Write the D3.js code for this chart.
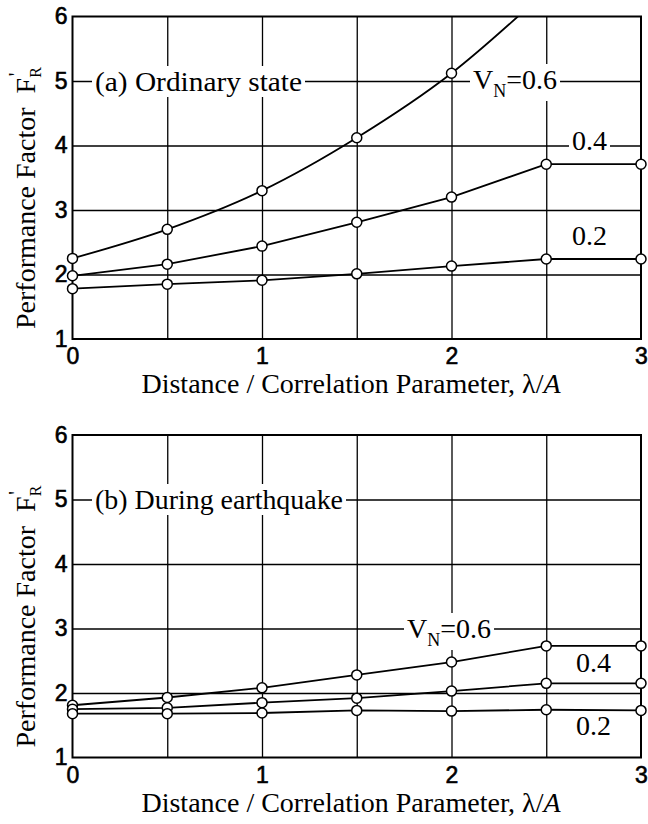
<!DOCTYPE html>
<html>
<head>
<meta charset="utf-8">
<script src="https://cdn.jsdelivr.net/npm/d3@7"></script>
<style>
    body { margin: 0; background: #fff; }
    svg { display: block; }
    .tick text { font-family: "Liberation Sans", Arial, sans-serif; font-size: 23px; fill: #000; stroke: #000; stroke-width: 0.6; }
    .grid line { stroke: #000; stroke-width: 1.3; }
    .grid .domain, .ticks .domain { display: none; }
    .frame { fill: none; stroke: #000; stroke-width: 2; }
    .curve { fill: none; stroke: #000; stroke-width: 1.8; }
    .pt { fill: #fff; stroke: #000; stroke-width: 1.5; }
    .lbl, .axisTitle { font-family: "Liberation Serif", "Times New Roman", serif; font-size: 28px; fill: #000; }
</style>
</head>
<body>
<script>
//wrap everything in a self-executing anonymous function
(function(){
    //distance / correlation parameter values of the computed points
    var xValues = [0, 0.5, 1, 1.5, 2, 2.5, 3];
    //tick labels and grid positions
    var xTicks = [0, 1, 2, 3];
    var yTicks = [1, 2, 3, 4, 5, 6];
    var xGrid = [0.5, 1, 1.5, 2, 2.5];
    var yGrid = [2, 3, 4, 5];

    //(a) ordinary state - performance factor for V_N = 0.6, 0.4, 0.2
    //(the 0.6 curve leaves the top of the frame after lambda/A = 2)
    var ordinary06 = [2.25, 2.70, 3.30, 4.12, 5.12, 6.40];
    var ordinary04 = [1.98, 2.16, 2.44, 2.81, 3.20, 3.71, 3.71];
    var ordinary02 = [1.78, 1.85, 1.91, 2.01, 2.13, 2.24, 2.24];

    //(b) during earthquake
    var quake06 = [1.81, 1.93, 2.08, 2.28, 2.48, 2.73, 2.73];
    var quake04 = [1.75, 1.77, 1.85, 1.92, 2.03, 2.15, 2.15];
    var quake02 = [1.68, 1.68, 1.69, 1.73, 1.72, 1.74, 1.73];

    //svg frame and plot box
    var width = 648,
        height = 824,
        left = 72.5,
        right = 641,
        plotHeight = 322.5;

    var svg = d3.select("body")
        .append("svg")
        .attr("width", width)
        .attr("height", height);

    svg.append("rect")
        .attr("width", width)
        .attr("height", height)
        .style("fill", "#fff");

    var xScale = d3.scaleLinear()
        .domain([0, 3])
        .range([left, right]);

    var yScale = d3.scaleLinear()
        .domain([1, 6])
        .range([plotHeight, 0]);

    //panel set up; label positions are pixels inside the plot box
    var panels = [
        {
            id: "a",
            top: 16.5,
            series: [ordinary06, ordinary04, ordinary02],
            curves: [d3.curveMonotoneX, d3.curveLinear, d3.curveLinear],
            labels: [
                { text: "(a) Ordinary state", x: 22.5, y: 74.5, len: 207 },
                { vn: true, x: 400.5, y: 72.5 },
                { text: "0.4", x: 499.5, y: 133.5 },
                { text: "0.2", x: 499.5, y: 228.5 }
            ]
        },
        {
            id: "b",
            top: 435,
            series: [quake06, quake04, quake02],
            curves: [d3.curveLinear, d3.curveLinear, d3.curveLinear],
            labels: [
                { text: "(b) During earthquake", x: 22.5, y: 74, len: 248 },
                { vn: true, x: 334.5, y: 203 },
                { text: "0.4", x: 503.5, y: 237 },
                { text: "0.2", x: 503.5, y: 300 }
            ]
        }
    ];

    panels.forEach(drawPanel);

    function drawPanel(panel){
        var g = svg.append("g")
            .attr("transform", "translate(0," + panel.top + ")");

        //clip for curves that run out of the frame
        g.append("clipPath")
            .attr("id", "clip-" + panel.id)
            .append("rect")
            .attr("x", left)
            .attr("y", 0)
            .attr("width", right - left)
            .attr("height", plotHeight);

        //horizontal grid lines
        g.append("g")
            .attr("class", "grid")
            .attr("transform", "translate(" + left + ",0)")
            .call(d3.axisLeft(yScale).tickValues(yGrid).tickSize(-(right - left)).tickFormat(""));

        //vertical grid lines
        g.append("g")
            .attr("class", "grid")
            .attr("transform", "translate(0," + plotHeight + ")")
            .call(d3.axisBottom(xScale).tickValues(xGrid).tickSize(-plotHeight).tickFormat(""));

        //tick labels
        g.append("g")
            .attr("class", "ticks")
            .attr("transform", "translate(" + (left - 5) + ",0)")
            .call(d3.axisLeft(yScale).tickValues(yTicks).tickSize(0).tickPadding(0).tickFormat(d3.format("d")));

        g.append("g")
            .attr("class", "ticks")
            .attr("transform", "translate(0," + plotHeight + ")")
            .call(d3.axisBottom(xScale).tickValues(xTicks).tickSize(0).tickPadding(9).tickFormat(d3.format("d")));

        //frame
        g.append("rect")
            .attr("class", "frame")
            .attr("x", left)
            .attr("y", 0)
            .attr("width", right - left)
            .attr("height", plotHeight);

        //curve labels with a white box that breaks the grid
        panel.labels.forEach(function(l){
            var lg = g.append("g");
            var box = lg.append("rect").style("fill", "#fff");
            var t = lg.append("text")
                .attr("class", "lbl")
                .attr("x", left + l.x)
                .attr("y", l.y);
            if (l.vn) {
                t.append("tspan").text("V");
                t.append("tspan").attr("dy", 8).style("font-size", "18px").text("N");
                t.append("tspan").attr("dy", -8).text("=0.6");
            } else {
                t.text(l.text);
            }
            if (l.len) {
                t.attr("textLength", l.len).attr("lengthAdjust", "spacingAndGlyphs");
            }
            var bb = t.node().getBBox();
            box.attr("x", bb.x - 3)
                .attr("y", bb.y)
                .attr("width", bb.width + 6)
                .attr("height", bb.height);
        });

        //curves
        var pts = panel.series.map(function(vals){
            return vals.map(function(v, i){ return [xValues[i], v]; });
        });

        g.append("g")
            .attr("clip-path", "url(#clip-" + panel.id + ")")
            .selectAll("path")
            .data(pts)
            .enter()
            .append("path")
            .attr("class", "curve")
            .attr("d", function(d, i){
                return d3.line()
                    .x(function(p){ return xScale(p[0]); })
                    .y(function(p){ return yScale(p[1]); })
                    .curve(panel.curves[i])(d);
            });

        //point markers inside the frame
        var inside = [].concat.apply([], pts).filter(function(d){ return d[1] <= 6; });
        g.selectAll(".pt")
            .data(inside)
            .enter()
            .append("circle")
            .attr("class", "pt")
            .attr("cx", function(d){ return xScale(d[0]); })
            .attr("cy", function(d){ return yScale(d[1]); })
            .attr("r", 5);

        //axis titles
        var yt = g.append("text")
            .attr("class", "axisTitle")
            .attr("transform", "translate(35," + (plotHeight - 10) + ") rotate(-90)");
        yt.append("tspan").text("Performance Factor");
        yt.append("tspan").attr("dx", 14).text("F");
        yt.append("tspan").attr("dy", 6).style("font-size", "16px").text("R");
        yt.append("tspan").attr("dx", -9).attr("dy", -18).style("font-size", "20px").text("'");

        g.append("text")
            .attr("class", "axisTitle")
            .attr("x", (137 + 565) / 2)
            .attr("y", plotHeight + 54)
            .attr("text-anchor", "middle")
            .text("Distance / Correlation Parameter,  \u03bb/")
            .append("tspan")
            .style("font-style", "italic")
            .text("A");
    }
})();
</script>
</body>
</html>
